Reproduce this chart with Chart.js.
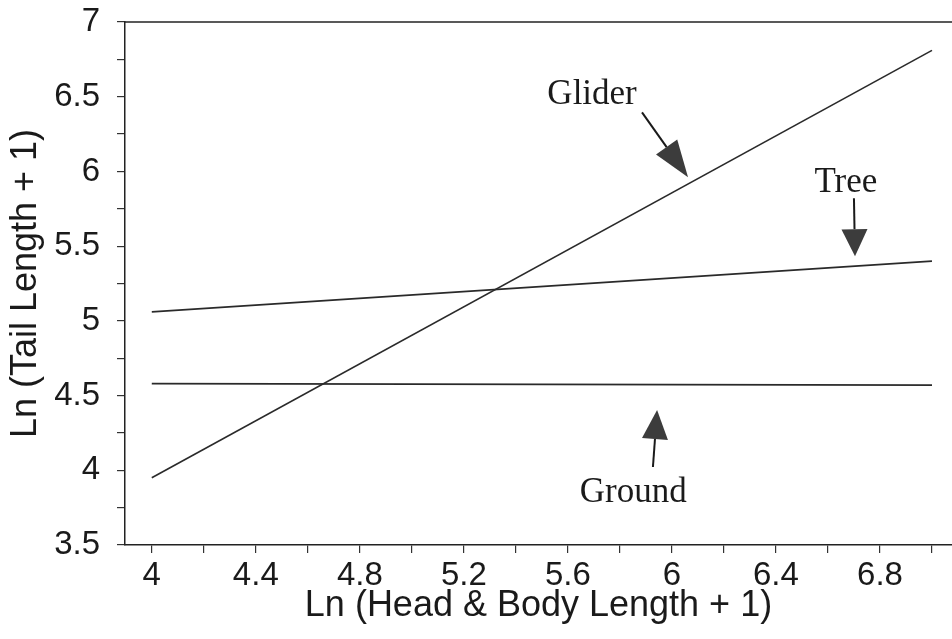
<!DOCTYPE html>
<html><head><meta charset="utf-8">
<script src="https://cdn.jsdelivr.net/npm/chart.js@4"></script>
<style>html,body{margin:0;padding:0;background:#fff}</style>
</head><body>
<canvas id="c" width="952" height="639"></canvas>
<script>
// ---- data ----
const xEnds = [4.0, 7.0];
const gliderY = [3.95, 6.81];
const treeY = [5.06, 5.40];
const groundY = [4.58, 4.57];
const seriesNames = ['Glider', 'Tree', 'Ground'];
const xTickValues = [4.0, 4.2, 4.4, 4.6, 4.8, 5.0, 5.2, 5.4, 5.6, 5.8, 6.0, 6.2, 6.4, 6.6, 6.8, 7.0];
const xTickLabels = ['4', '', '4.4', '', '4.8', '', '5.2', '', '5.6', '', '6', '', '6.4', '', '6.8', ''];
const yTickValues = [3.5, 3.75, 4.0, 4.25, 4.5, 4.75, 5.0, 5.25, 5.5, 5.75, 6.0, 6.25, 6.5, 6.75, 7.0];
const yTickLabels = ['3.5', '', '4', '', '4.5', '', '5', '', '5.5', '', '6', '', '6.5', '', '7'];
const xTitle = 'Ln (Head & Body Length + 1)';
const yTitle = 'Ln (Tail Length + 1)';

// ---- annotation layout (data coordinates) ----
const annotations = [
  { text: 'Glider', tx: 5.693, ty: 6.449, tail: [5.885, 6.395], tip: [6.062, 5.961], headLen: 37, headW: 26 },
  { text: 'Tree',   tx: 6.669, ty: 5.860, tail: [6.700, 5.820], tip: [6.704, 5.433], headLen: 27, headW: 26 },
  { text: 'Ground', tx: 5.851, ty: 3.788, tail: [5.927, 4.022], tip: [5.943, 4.403], headLen: 29, headW: 26 }
];

const toPts = ys => xEnds.map((x, i) => ({ x: x, y: ys[i] }));
const lineStyle = { borderColor: '#2a2a2a', borderWidth: 1.6, pointRadius: 0, fill: false, tension: 0 };

const annotPlugin = {
  id: 'annot',
  afterDraw(chart) {
    const ctx = chart.ctx, xs = chart.scales.x, ys = chart.scales.y, ca = chart.chartArea;
    ctx.save();
    ctx.strokeStyle = '#222';
    ctx.lineWidth = 1.5;
    ctx.beginPath();
    ctx.moveTo(ca.left, ca.top);
    ctx.lineTo(ca.right, ca.top);
    ctx.stroke();
    annotations.forEach(a => {
      ctx.font = '35px "Liberation Serif", "Times New Roman", serif';
      ctx.fillStyle = '#1a1a1a';
      ctx.textAlign = 'center';
      ctx.textBaseline = 'alphabetic';
      ctx.fillText(a.text, xs.getPixelForValue(a.tx), ys.getPixelForValue(a.ty));
      const x0 = xs.getPixelForValue(a.tail[0]), y0 = ys.getPixelForValue(a.tail[1]);
      const x1 = xs.getPixelForValue(a.tip[0]), y1 = ys.getPixelForValue(a.tip[1]);
      const dx = x1 - x0, dy = y1 - y0, L = Math.hypot(dx, dy);
      const ux = dx / L, uy = dy / L, px = -uy, py = ux;
      const bx = x1 - ux * a.headLen, by = y1 - uy * a.headLen;
      ctx.strokeStyle = '#1a1a1a';
      ctx.lineWidth = 2;
      ctx.beginPath();
      ctx.moveTo(x0, y0);
      ctx.lineTo(bx, by);
      ctx.stroke();
      ctx.fillStyle = '#3c3c3c';
      ctx.beginPath();
      ctx.moveTo(x1, y1);
      ctx.lineTo(bx + px * a.headW / 2, by + py * a.headW / 2);
      ctx.lineTo(bx - px * a.headW / 2, by - py * a.headW / 2);
      ctx.closePath();
      ctx.fill();
    });
    ctx.restore();
  }
};

const tickFont = { family: '"Liberation Sans", Arial, sans-serif', size: 33 };
const titleFont = { family: '"Liberation Sans", Arial, sans-serif', size: 36 };

new Chart(document.getElementById('c'), {
  type: 'line',
  data: {
    datasets: [
      Object.assign({ label: seriesNames[0], data: toPts(gliderY) }, lineStyle),
      Object.assign({ label: seriesNames[1], data: toPts(treeY) }, lineStyle),
      Object.assign({ label: seriesNames[2], data: toPts(groundY) }, lineStyle)
    ]
  },
  options: {
    responsive: false,
    animation: false,
    devicePixelRatio: 1,
    layout: { padding: { top: 22, right: 0, left: 0, bottom: 0 } },
    plugins: { legend: { display: false }, tooltip: { enabled: false } },
    scales: {
      x: {
        type: 'linear',
        min: 3.897,
        max: 7.077,
        afterFit(s) { s.height = 94; s.paddingLeft = 0; s.paddingRight = 0; },
        afterBuildTicks(s) { s.ticks = xTickValues.map(v => ({ value: v })); },
        ticks: {
          autoSkip: false, maxRotation: 0, color: '#1a1a1a', font: tickFont, padding: 3,
          callback: (v, i) => xTickLabels[i]
        },
        grid: { drawOnChartArea: false, drawTicks: true, tickLength: 8, color: '#333', lineWidth: 1.2 },
        border: { display: true, color: '#222', width: 1.5 },
        title: { display: true, text: xTitle, color: '#1a1a1a', font: titleFont, padding: { top: 0, bottom: 11 } }
      },
      y: {
        type: 'linear',
        min: 3.5,
        max: 7,
        afterFit(s) { s.width = 125; s.paddingTop = 0; s.paddingBottom = 0; },
        afterBuildTicks(s) { s.ticks = yTickValues.map(v => ({ value: v })); },
        ticks: {
          autoSkip: false, color: '#1a1a1a', font: tickFont, padding: 17,
          callback: (v, i) => yTickLabels[i]
        },
        grid: { drawOnChartArea: false, drawTicks: true, tickLength: 8, color: '#333', lineWidth: 1.2 },
        border: { display: true, color: '#222', width: 1.5 },
        title: { display: true, text: yTitle, color: '#1a1a1a', font: titleFont, padding: { top: 4, bottom: 0 } }
      }
    }
  },
  plugins: [annotPlugin]
});
</script>
</body></html>
